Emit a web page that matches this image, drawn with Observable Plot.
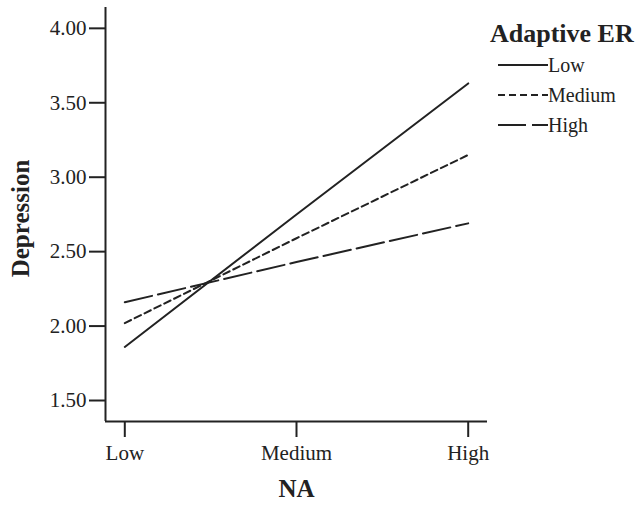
<!DOCTYPE html>
<html><head><meta charset="utf-8">
<script src="https://cdn.jsdelivr.net/npm/d3@7"></script>
<script src="https://cdn.jsdelivr.net/npm/@observablehq/plot@0.6"></script>
<style>
body{margin:0;background:#fff;}
#wrap{position:relative;width:638px;height:514px;font-family:"Liberation Serif","Times New Roman",serif;color:#222;}
#legend{position:absolute;left:490px;top:18px;}
#legend .title{font-weight:bold;font-size:26px;line-height:32px;}
#legend .row{display:flex;align-items:center;height:30px;margin-left:8px;font-size:20px;}
</style></head><body><div id="wrap"></div>
<script>
const naLevels = ["Low", "Medium", "High"];
const erLevels = ["Low", "Medium", "High"];
const lowER = [1.86, 2.75, 3.63];
const mediumER = [2.02, 2.59, 3.15];
const highER = [2.16, 2.43, 2.69];
const yTicks = [1.5, 2.0, 2.5, 3.0, 3.5, 4.0];
const dashes = {Low: null, Medium: "7,4", High: "28,6"};

const seriesValues = {Low: lowER, Medium: mediumER, High: highER};
const data = [];
for (const er of erLevels) {
  naLevels.forEach((na, i) => data.push({er, na, xi: i, y: seriesValues[er][i]}));
}
const ink = "#222";
const font = '"Liberation Serif","Times New Roman",serif';

const chart = Plot.plot({
  width: 638,
  height: 514,
  marginLeft: 105,
  marginRight: 151,
  marginTop: 7,
  marginBottom: 93,
  style: {fontFamily: font, color: ink, background: "#fff"},
  x: {domain: [-0.1124, 2.1124]},
  y: {domain: [1.359, 4.14]},
  marks: [
    Plot.axisY({ticks: yTicks, tickFormat: d => d.toFixed(2), tickSize: 16, tickPadding: 3, fontSize: 21, strokeWidth: 2, label: null}),
    Plot.axisX({ticks: [0, 1, 2], tickFormat: i => naLevels[i], tickSize: 16, tickPadding: 8, fontSize: 21, strokeWidth: 2, label: null}),
    Plot.ruleX([-0.1124], {stroke: ink, strokeWidth: 2}),
    Plot.ruleY([1.359], {stroke: ink, strokeWidth: 2}),
    ...erLevels.map(er => Plot.line(data.filter(d => d.er === er), {
      x: "xi", y: "y", stroke: ink, strokeWidth: 2, strokeDasharray: dashes[er]
    })),
    Plot.text(["Depression"], {frameAnchor: "left", textAnchor: "middle", rotate: -90, dx: -85, dy: 4, fontSize: 25, fontWeight: "bold", fill: ink}),
    Plot.text(["NA"], {frameAnchor: "bottom", dy: 75, fontSize: 25, fontWeight: "bold", fill: ink})
  ]
});
const wrap = document.getElementById("wrap");
wrap.appendChild(chart);

const legend = document.createElement("div");
legend.id = "legend";
let html = '<div class="title">Adaptive ER</div>';
for (const er of erLevels) {
  const dash = dashes[er] ? `stroke-dasharray="${dashes[er]}"` : "";
  html += `<div class="row"><svg width="50" height="6"><line x1="0" y1="3" x2="50" y2="3" stroke="${ink}" stroke-width="2" ${dash}/></svg><span>${er}</span></div>`;
}
legend.innerHTML = html;
wrap.appendChild(legend);
</script>
</body></html>
